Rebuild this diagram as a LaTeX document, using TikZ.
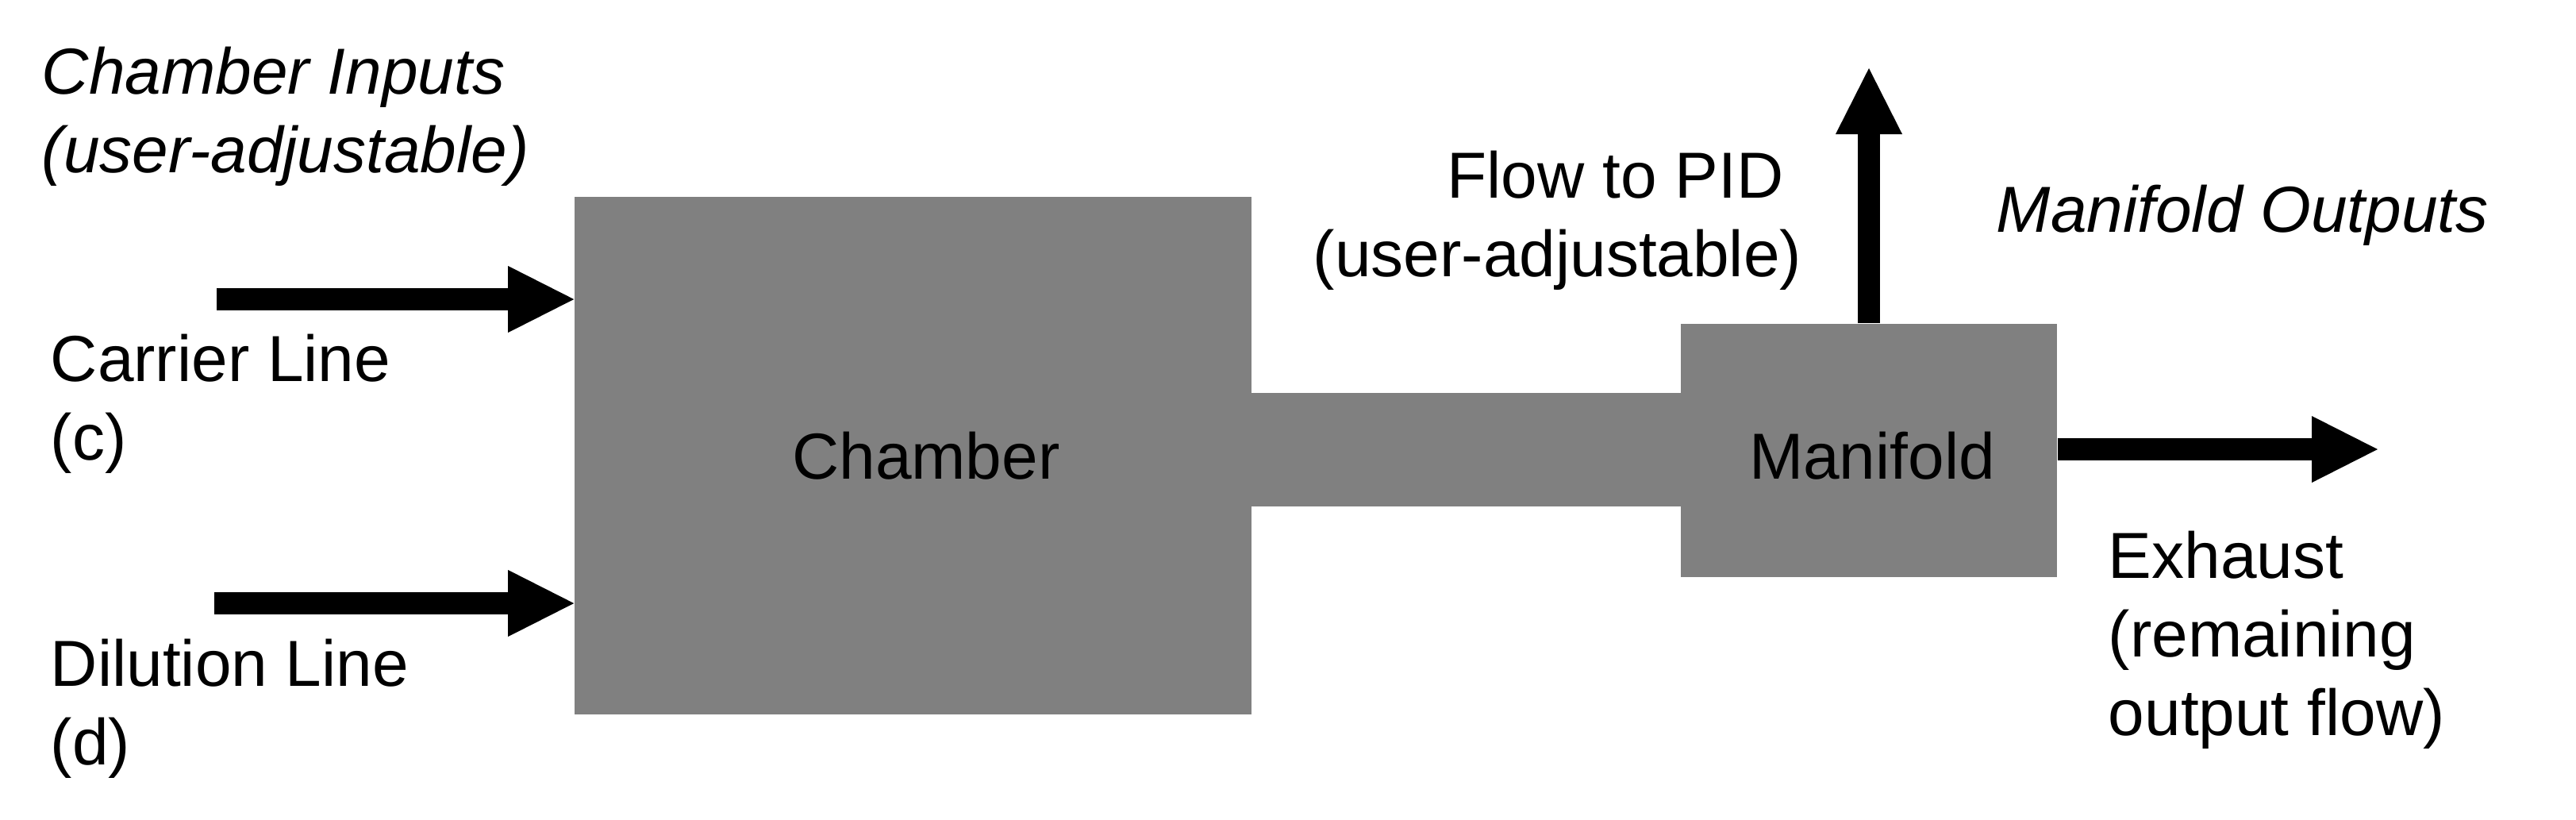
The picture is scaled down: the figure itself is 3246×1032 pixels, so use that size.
\documentclass[tikz,border=0pt]{standalone}
\usepackage{fontspec}
\setmainfont{Liberation Sans}
\usetikzlibrary{arrows.meta}
\definecolor{boxgray}{RGB}{128,128,128}
\begin{document}
\begin{tikzpicture}[x=0.25pt,y=-0.25pt,
  txt/.style={inner sep=0pt, font=\fontsize{20.5}{24.75}\selectfont},
  itxt/.style={inner sep=0pt, font=\fontsize{20.5}{24.75}\selectfont\itshape},
  blk/.style={fill=boxgray, draw=none, inner sep=0pt},
  flow/.style={line width=7pt, -{Triangle[length=20.75pt,width=21pt,line width=0pt]}}]
\useasboundingbox (0,0) rectangle (3246,1032);
% pipe between chamber and manifold
\node[blk, minimum width=136pt, minimum height=35.75pt] (pipe) at (1847.5,566.5) {};
\node[blk, minimum width=213.25pt, minimum height=163pt,
      label={[txt, xshift=4.1pt]center:Chamber}] (chamber) at (1150.5,574) {};
\node[blk, minimum width=118.5pt, minimum height=79.75pt,
      label={[txt, xshift=1pt, yshift=-1.6pt]center:Manifold}] (manifold) at (2355,567.5) {};
% free ends
\coordinate (cin) at (273,377);
\coordinate (din) at (270,760);
\coordinate (pidout) at (2355,86);
\coordinate (exout) at (2996,566);
% arrows
\draw[flow] (cin) -- (cin -| chamber.west);
\draw[flow] (din) -- (din -| chamber.west);
\draw[flow] (manifold.north) -- (pidout);
\draw[flow] (manifold.east |- exout) -- (exout);
% texts
\node[itxt, anchor=base west] (inputs) at (52,118)
  {\begin{tabular}[t]{@{}l@{}}Chamber Inputs\\(user-adjustable)\end{tabular}};
\node[txt, anchor=base west] (carrier) at (63,480)
  {\begin{tabular}[t]{@{}l@{}}Carrier Line\\(c)\end{tabular}};
\node[txt, anchor=base west] (dilution) at (63,864)
  {\begin{tabular}[t]{@{}l@{}}Dilution Line\\(d)\end{tabular}};
\node[txt, anchor=base east] (pid) at (2271,249)
  {\begin{tabular}[t]{@{}r@{}}Flow to PID\kern0.278em\\(user-adjustable)\end{tabular}};
\node[itxt, anchor=base west] (outputs) at (2515,292) {Manifold Outputs};
\node[txt, anchor=base west] (exhaust) at (2656,728)
  {\begin{tabular}[t]{@{}l@{}}Exhaust\\(remaining\\output flow)\end{tabular}};
\end{tikzpicture}
\end{document}
